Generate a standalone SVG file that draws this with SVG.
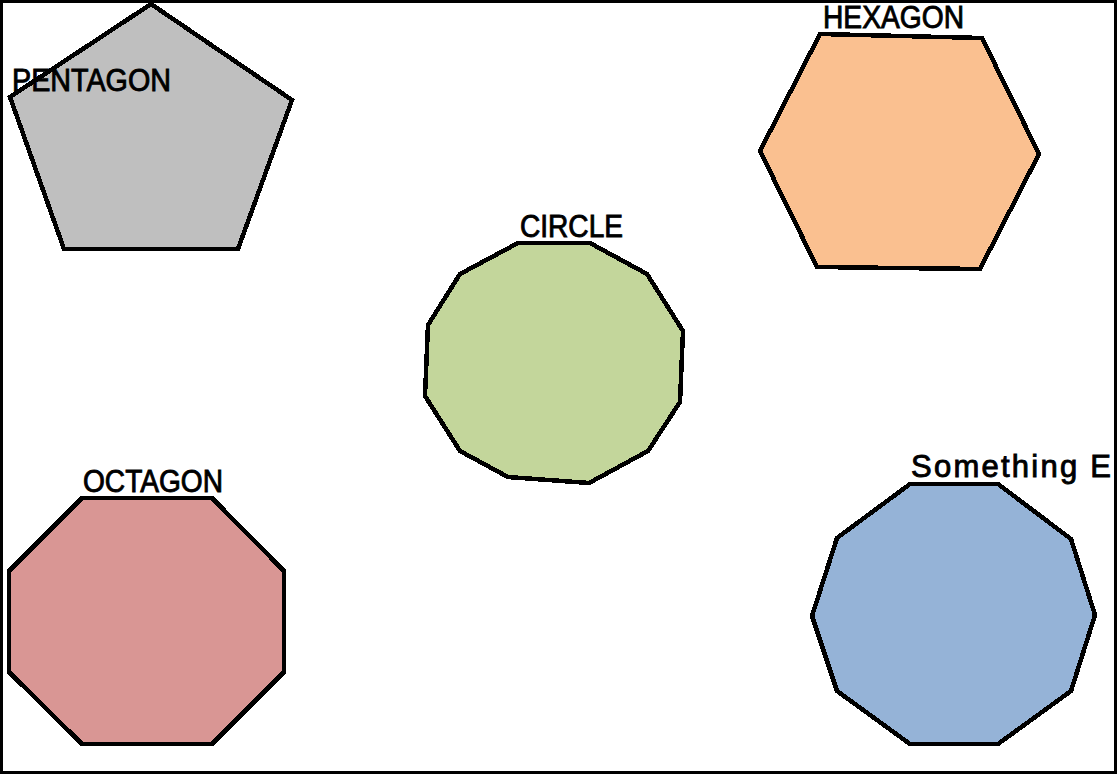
<svg xmlns="http://www.w3.org/2000/svg" width="1117" height="774" viewBox="0 0 1117 774">
<style>
.shape{stroke:#000;stroke-width:4.5;stroke-linejoin:miter;shape-rendering:crispEdges}
.lbl{font-family:"Liberation Sans",Arial,sans-serif;font-size:31px;fill:#000;stroke:#000;stroke-width:0.9}
</style>
<rect x="0" y="0" width="1117" height="774" fill="#fff"/>
<rect x="1.5" y="1.5" width="1114" height="771" fill="none" stroke="#000" stroke-width="3" shape-rendering="crispEdges"/>
<g id="connectors"></g>
<g id="pentagon">
<polygon class="shape" fill="#BFBFBF" points="151,4 292,100 238,249 64,249 10,97"/>
<text class="lbl" x="12" y="91" textLength="159" lengthAdjust="spacingAndGlyphs">PENTAGON</text>
</g>
<g id="hexagon">
<polygon class="shape" fill="#FAC090" points="820,34 982,38 1039,154 980,269 817,267 760,151"/>
<text class="lbl" x="823" y="28" textLength="141" lengthAdjust="spacingAndGlyphs">HEXAGON</text>
</g>
<g id="circle">
<polygon class="shape" fill="#C3D69B" points="518,243 590,243 647,274 683,331 680,402 648,451 589,483 508,477 460,451 425,396 428,325 460,274"/>
<text class="lbl" x="520" y="237" textLength="103" lengthAdjust="spacingAndGlyphs">CIRCLE</text>
</g>
<g id="octagon">
<polygon class="shape" fill="#D99694" points="82,498 212,498 284,571 284,672 212,744 82,744 9,672 9,571"/>
<text class="lbl" x="83" y="492" textLength="140" lengthAdjust="spacingAndGlyphs">OCTAGON</text>
</g>
<g id="decagon">
<polygon class="shape" fill="#95B3D7" points="910,484 998,484 1071,539 1095,615 1071,691 998,744 910,744 837,691 812,616 837,538"/>
<text class="lbl" x="911" y="477" textLength="200" lengthAdjust="spacing">Something E</text>
</g>
</svg>
